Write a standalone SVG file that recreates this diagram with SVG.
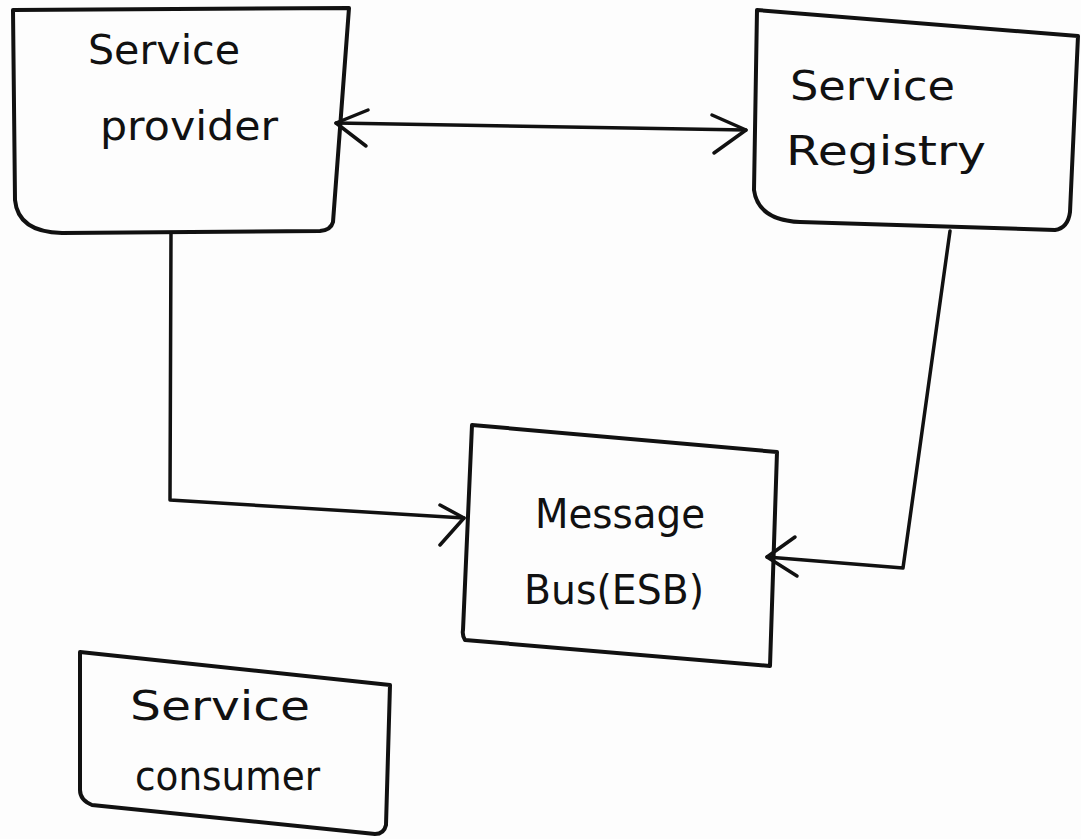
<svg xmlns="http://www.w3.org/2000/svg" width="1081" height="839" viewBox="0 0 1081 839">
  <style>
    .box { fill: none; stroke: #111; stroke-width: 4; stroke-linejoin: round; stroke-linecap: round; }
    .wire { fill: none; stroke: #111; stroke-width: 3.5; stroke-linejoin: round; stroke-linecap: round; }
    .lbl { font-family: "DejaVu Sans", "Liberation Sans", sans-serif; font-size: 40px; fill: #111; }
  </style>
  <rect width="1081" height="839" fill="#fdfdfd"/>

  <g id="service-provider">
    <path class="box" d="M13,10 L349,8 L333,222 Q331,230 320,231 L62,233 Q18,232 15,200 Z"/>
    <text class="lbl" x="88" y="64" textLength="152" lengthAdjust="spacingAndGlyphs">Service</text>
    <text class="lbl" x="100" y="140" textLength="178" lengthAdjust="spacingAndGlyphs">provider</text>
  </g>

  <g id="service-registry">
    <path class="box" d="M754,190 L757,10 L1078,36 L1070,212 Q1068,228 1055,230 L800,222 Q758,220 754,190 Z"/>
    <text class="lbl" x="790" y="100" textLength="165" lengthAdjust="spacingAndGlyphs">Service</text>
    <text class="lbl" x="786" y="165" textLength="200" lengthAdjust="spacingAndGlyphs">Registry</text>
  </g>

  <g id="message-bus">
    <path class="box" d="M472,425 L777,452 L770,666 L465,640 Q462,635 463,630 Z"/>
    <text class="lbl" x="535" y="528" textLength="170" lengthAdjust="spacingAndGlyphs">Message</text>
    <text class="lbl" x="524" y="604" textLength="180" lengthAdjust="spacingAndGlyphs">Bus(ESB)</text>
  </g>

  <g id="service-consumer">
    <path class="box" d="M80,652 L390,685 L386,825 Q384,834 375,834 L92,805 Q80,800 80,790 Z"/>
    <text class="lbl" x="130" y="720" textLength="180" lengthAdjust="spacingAndGlyphs">Service</text>
    <text class="lbl" x="135" y="790" textLength="185" lengthAdjust="spacingAndGlyphs">consumer</text>
  </g>

  <g id="connectors">
    <!-- provider <-> registry -->
    <path class="wire" d="M336,123 L746,130"/>
    <path class="wire" d="M368,110 L336,123 L366,146"/>
    <path class="wire" d="M712,115 L746,130 L714,153"/>
    <!-- provider -> message bus -->
    <path class="wire" d="M171,233 L170,500 L464,518"/>
    <path class="wire" d="M440,505 L464,518 L440,545"/>
    <!-- registry -> message bus -->
    <path class="wire" d="M950,231 L903,568 L767,557"/>
    <path class="wire" d="M795,537 L767,557 L797,576"/>
  </g>
</svg>
